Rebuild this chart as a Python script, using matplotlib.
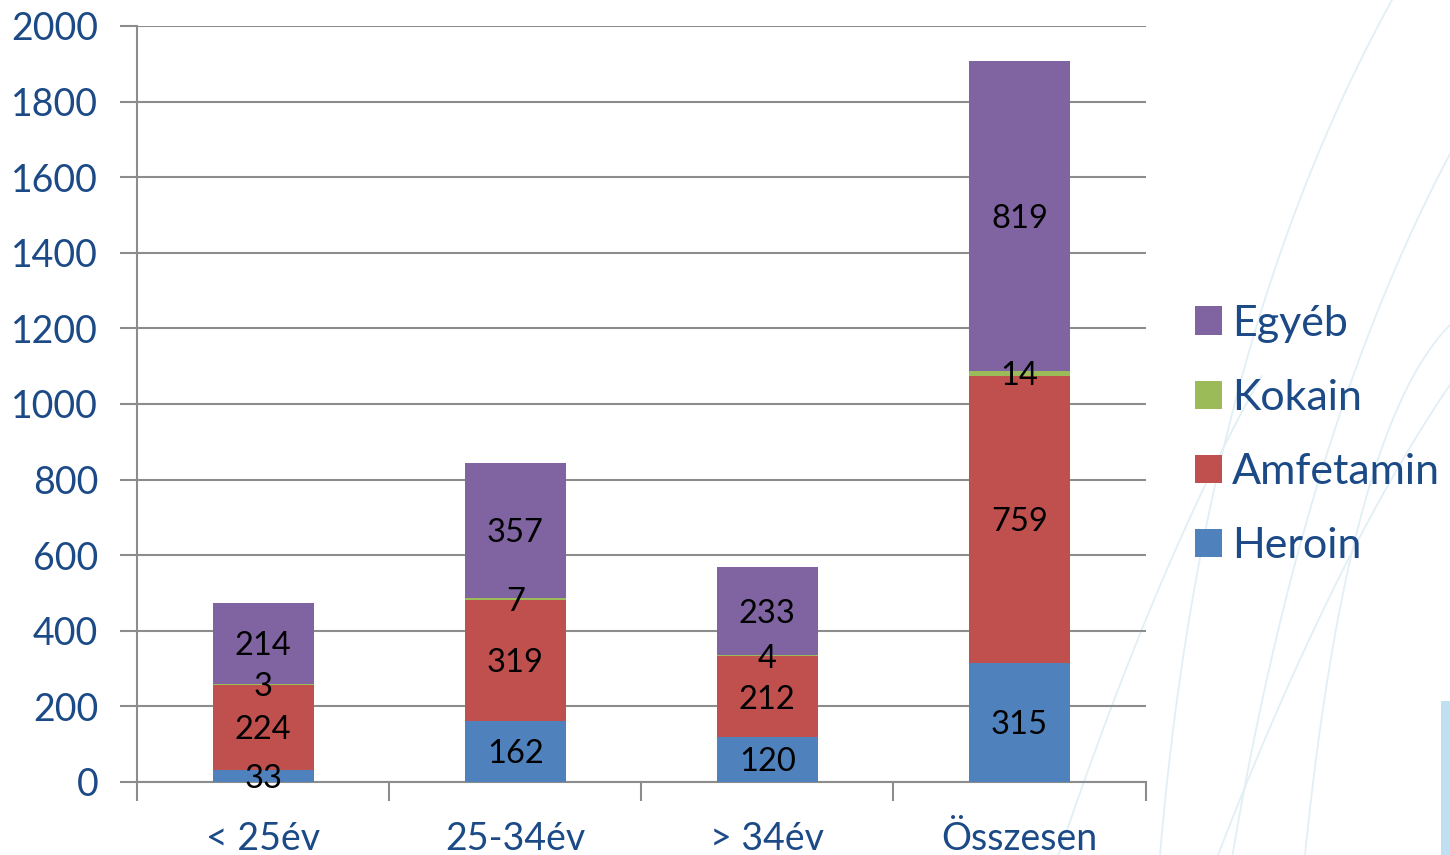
import numpy as np
import matplotlib.pyplot as plt

# Data
categories = ['< 25év', '25-34év', '> 34év', 'Összesen']
heroin = [33, 162, 120, 315]
amfetamin = [224, 319, 212, 759]
kokain = [3, 7, 4, 14]
egyeb = [214, 357, 233, 819]

series_names = ['Heroin', 'Amfetamin', 'Kokain', 'Egyéb']
series_values = [heroin, amfetamin, kokain, egyeb]
colors = ['#4F81BD', '#C0504D', '#9BBB59', '#8064A2']

text_blue = '#1B4A86'
grid_gray = '#8C8C8C'

plt.rcParams['font.family'] = ['Lato', 'DejaVu Sans']

fig = plt.figure(figsize=(14.5, 8.55), dpi=100)

# faint decorative background curves
bg = fig.add_axes([0, 0, 1, 1], zorder=-1)
bg.set_xlim(0, 1)
bg.set_ylim(0, 1)
bg.axis('off')
t = np.linspace(0, 1, 100)
def bez(p0, p1, p2):
    x = (1 - t)**2 * p0[0] + 2 * (1 - t) * t * p1[0] + t**2 * p2[0]
    y = (1 - t)**2 * p0[1] + 2 * (1 - t) * t * p1[1] + t**2 * p2[1]
    return x, y
for p0, p1, p2 in [((0.80, 0.0), (0.83, 0.6), (0.96, 1.0)),
                   ((0.85, 0.0), (0.90, 0.5), (1.0, 0.82)),
                   ((0.90, 0.0), (0.93, 0.5), (1.0, 0.62)),
                   ((0.84, 0.0), (0.92, 0.35), (1.0, 0.55)),
                   ((0.73, 0.0), (0.80, 0.35), (0.87, 0.56))]:
    x, y = bez(p0, p1, p2)
    bg.plot(x, y, color='#E2EFF5', lw=1.3)
bg.fill_between([0.994, 1.0], 0, 0.18, color='#BFE0F2', lw=0)

ax = fig.add_axes([0.0945, 0.0854, 0.6955, 0.8842])
ax.patch.set_alpha(0)

x = np.arange(len(categories))
bottom = np.zeros(len(categories))
bars = []
for name, vals, c in zip(series_names, series_values, colors):
    b = ax.bar(x, vals, 0.4, bottom=bottom, color=c, label=name, zorder=3)
    bars.append(b)
    for xi, bi, v in zip(x, bottom, vals):
        ax.text(xi, bi + v / 2, str(v), ha='center', va='center_baseline',
                fontsize=23.5, color='black', zorder=4)
    bottom = bottom + np.array(vals)

ax.set_xlim(-0.5, len(categories) - 0.5)
ax.set_ylim(0, 2000)
ax.set_yticks(np.arange(0, 2001, 200))
ax.yaxis.grid(True, color=grid_gray, lw=1.5, zorder=0)
ax.set_axisbelow(True)

ax.set_xticks(np.arange(-0.5, len(categories), 1))
ax.set_xticklabels([])
ax.set_xticks(x, minor=True)
ax.set_xticklabels(categories, minor=True)
ax.tick_params(axis='x', which='major', length=14, width=1.5, color=grid_gray)
ax.tick_params(axis='x', which='minor', length=0, pad=28, labelsize=27,
               labelcolor=text_blue)
ax.tick_params(axis='y', length=12, width=1.5, color=grid_gray, labelsize=27,
               labelcolor=text_blue, pad=16)

for s in ['top', 'right']:
    ax.spines[s].set_visible(False)
for s in ['left', 'bottom']:
    ax.spines[s].set_color(grid_gray)
    ax.spines[s].set_linewidth(1.5)

handles = [bars[3], bars[2], bars[1], bars[0]]
leg = ax.legend(handles, [series_names[3], series_names[2], series_names[1], series_names[0]],
                loc='center left', bbox_to_anchor=(1.028, 0.459), frameon=False,
                fontsize=31, handlelength=0.63, handleheight=0.63,
                handletextpad=0.22, labelspacing=0.84, borderpad=0)
for txt in leg.get_texts():
    txt.set_color(text_blue)

fig.savefig('out.png', dpi=100)
